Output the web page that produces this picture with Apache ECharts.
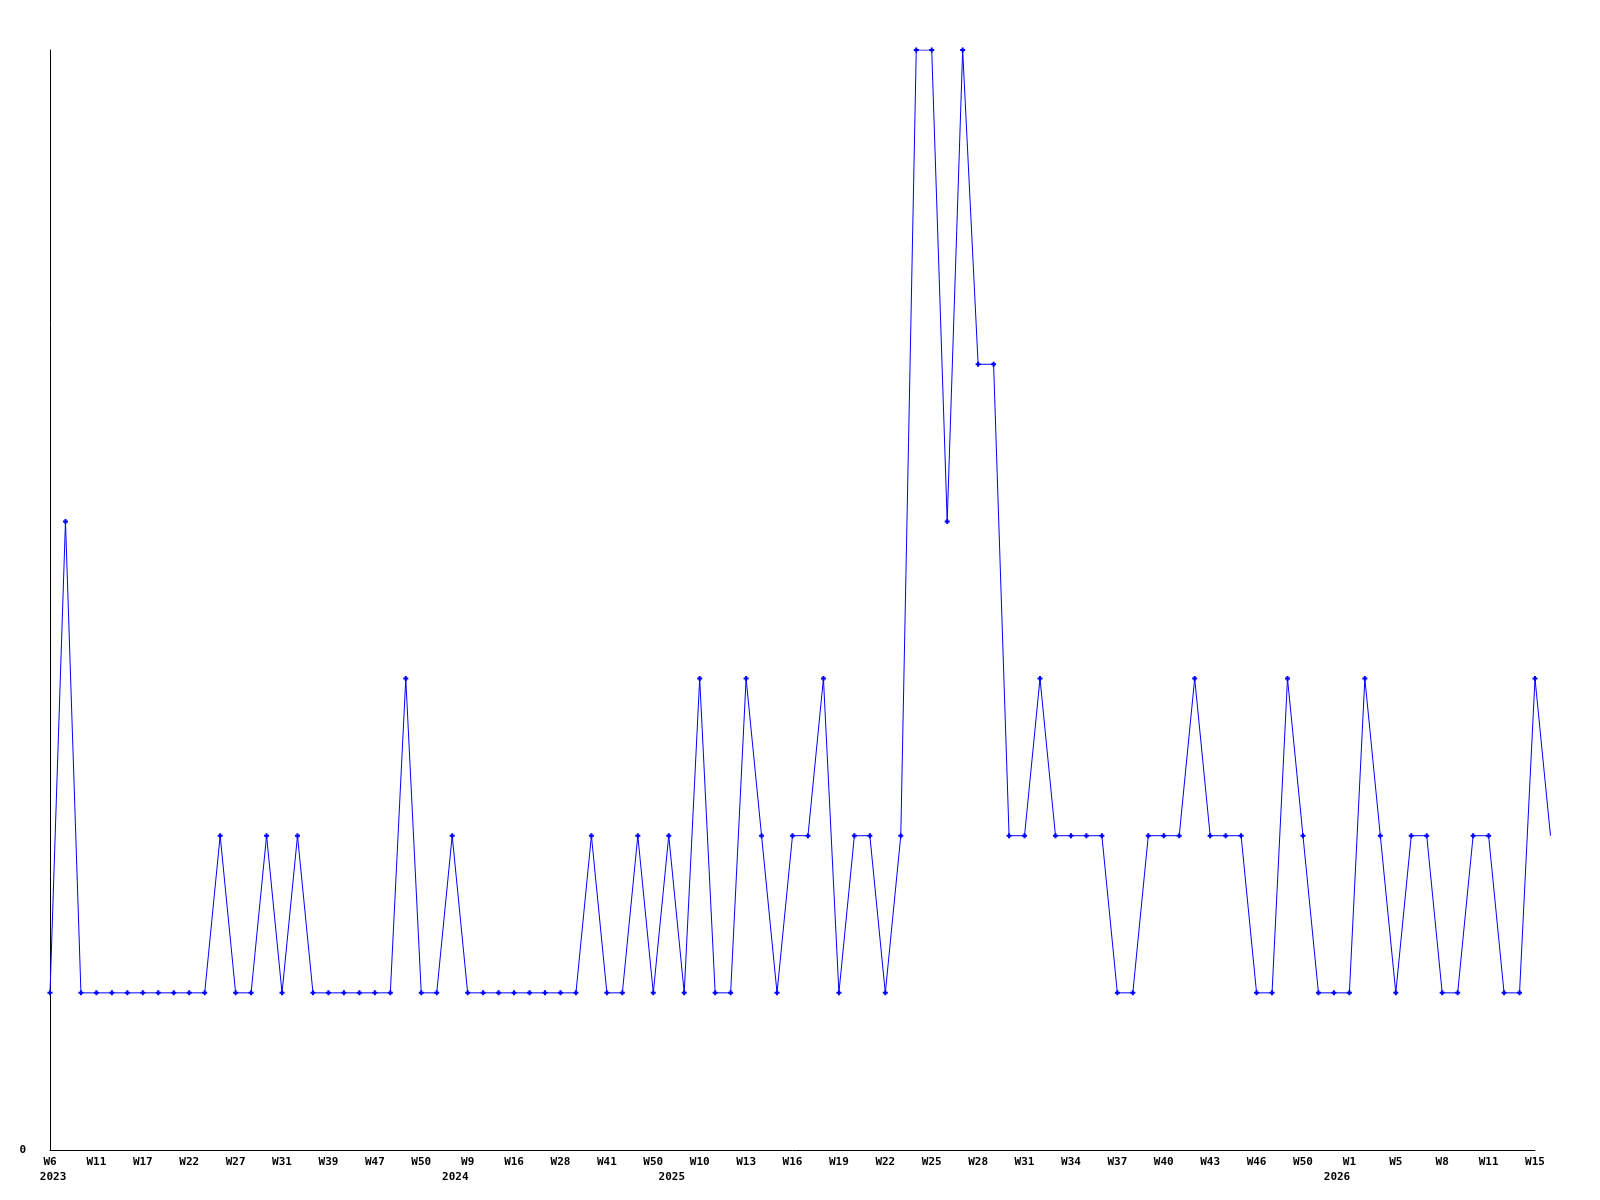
<!DOCTYPE html>
<html>
<head>
<meta charset="utf-8">
<title>Weekly count</title>
<script src="https://cdn.jsdelivr.net/npm/echarts@6/dist/echarts.min.js"></script>
<style>
  html, body { margin: 0; padding: 0; background: #fff; }
  #chart { width: 1600px; height: 1200px; }
</style>
</head>
<body>
<div id="chart"></div>
<script>
// week labels, one per data point (only every 3rd one is printed)
const weeks = [
  "W6", "W7", "W9", "W11", "W13", "W15", "W17", "W19", "W20", "W22",
  "W24", "W25", "W27", "W28", "W29", "W31", "W34", "W36", "W39", "W42",
  "W44", "W47", "W48", "W49", "W50",
  "W2", "W5", "W9", "W12", "W14", "W16", "W20", "W24", "W28", "W32",
  "W37", "W41", "W44", "W47", "W50",
  "W4", "W8", "W10", "W11", "W12", "W13", "W14", "W15", "W16", "W17",
  "W18", "W19", "W20", "W21", "W22", "W23", "W24", "W25", "W26", "W27",
  "W28", "W29", "W30", "W31", "W32", "W33", "W34", "W35", "W36", "W37",
  "W38", "W39", "W40", "W41", "W42", "W43", "W44", "W45", "W46", "W47",
  "W48", "W50", "W51",
  "W52", "W1", "W3", "W4", "W5", "W6", "W7", "W8", "W9", "W10",
  "W11", "W12", "W13", "W15", "W16"
];

// year labels, placed where each year begins along the week axis
const yearStarts = [
  { pos: 0.2, year: "2023" },
  { pos: 26.2, year: "2024" },
  { pos: 40.2, year: "2025" },
  { pos: 83.2, year: "2026" }
];

const counts = [
  1, 4, 1, 1, 1, 1, 1, 1, 1, 1, 1, 2, 1, 1, 2, 1, 2, 1, 1, 1, 1,
  1, 1, 3, 1, 1, 2, 1, 1, 1, 1, 1, 1, 1, 1, 2, 1, 1, 2, 1, 2, 1,
  3, 1, 1, 3, 2, 1, 2, 2, 3, 1, 2, 2, 1, 2, 7, 7, 4, 7, 5, 5, 2,
  2, 3, 2, 2, 2, 2, 1, 1, 2, 2, 2, 3, 2, 2, 2, 1, 1, 3, 2, 1,
  1, 1, 3, 2, 1, 2, 2, 1, 1, 2, 2, 1, 1, 3, 2
];

const yMax = 7;
const lastVisible = 96; // drawn axis stops here, the last point spills past it
const lastIndex = counts.length - 1;

const labelFont = {
  fontFamily: "DejaVu Sans Mono",
  fontWeight: "bold",
  fontSize: 11,
  color: "#000"
};

const seriesData = counts.map((v, i) =>
  i > lastVisible ? { value: [i, v], symbol: "none" } : [i, v]
);

const chart = echarts.init(document.getElementById("chart"), null, { renderer: "canvas" });

// grid 0 carries the line (one extra step wide), grid 1 the visible axes
const plotW = 1600 - 50 - 65;
const stepPx = plotW / lastVisible;

chart.setOption({
  animation: false,
  backgroundColor: "#fff",
  grid: [
    { left: 50, right: 65 - stepPx * (lastIndex - lastVisible), top: 50, bottom: 50 },
    { left: 50, right: 65, top: 50, bottom: 50 }
  ],
  xAxis: [
    {
      gridIndex: 0,
      type: "value",
      min: 0,
      max: lastIndex,
      show: false
    },
    {
      gridIndex: 1,
      type: "value",
      min: 0,
      max: lastVisible,
      interval: 3,
      axisLine: { show: true, lineStyle: { color: "#000", width: 1 } },
      axisTick: { show: false },
      splitLine: { show: false },
      axisLabel: {
        ...labelFont,
        margin: 7,
        showMinLabel: true,
        showMaxLabel: true,
        formatter: (v) => weeks[Math.round(v)] || ""
      }
    },
    {
      gridIndex: 1,
      type: "value",
      min: 0,
      max: lastVisible,
      position: "bottom",
      offset: 15,
      axisLine: { show: false },
      axisTick: { show: false },
      splitLine: { show: false },
      axisLabel: {
        ...labelFont,
        margin: 7,
        customValues: yearStarts.map((y) => y.pos),
        formatter: (v) => {
          const hit = yearStarts.find((y) => Math.abs(y.pos - v) < 1e-6);
          return hit ? hit.year : "";
        }
      }
    }
  ],
  yAxis: [
    {
      gridIndex: 0,
      type: "value",
      min: 0,
      max: yMax,
      show: false
    },
    {
      gridIndex: 1,
      type: "value",
      min: 0,
      max: yMax,
      interval: 1,
      axisLine: { show: true, lineStyle: { color: "#000", width: 1 } },
      axisTick: { show: false },
      splitLine: { show: false },
      axisLabel: {
        ...labelFont,
        margin: 24,
        formatter: (v) => (v === 0 ? "0" : "")
      }
    }
  ],
  series: [
    {
      type: "line",
      xAxisIndex: 0,
      yAxisIndex: 0,
      data: seriesData,
      symbol: "path://M1.5,0H3.5V1.5H5V3.5H3.5V5H1.5V3.5H0V1.5H1.5Z",
      symbolSize: 5,
      showAllSymbol: true,
      itemStyle: { color: "#0000ff" },
      lineStyle: { color: "#0000ff", width: 1 }
    }
  ]
});
</script>
</body>
</html>
